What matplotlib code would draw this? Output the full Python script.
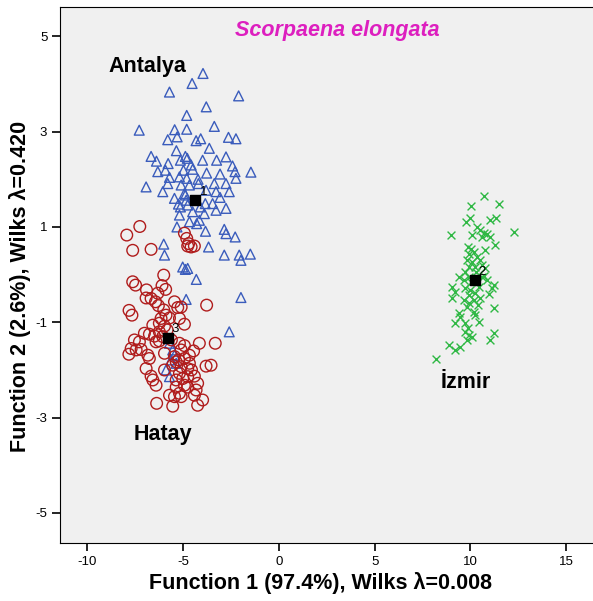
import numpy as np
import matplotlib
matplotlib.use("Agg")
import matplotlib.pyplot as plt

plt.rcParams['font.family'] = ['Liberation Sans', 'DejaVu Sans']
plt.rcParams['axes.unicode_minus'] = False

# discriminant scores
antalya_x = [-3.96, -4.53, -5.71, -2.10, -3.79, -4.81, -7.29, -5.44, -4.81, -3.37,
             -5.80, -5.31, -4.32, -4.08, -2.63, -2.24, -3.63, -6.67, -6.39, -5.35,
             -4.88, -4.78, -5.14, -3.98, -3.25, -2.76, -5.78, -4.58, -2.42, -1.46,
             -6.32, -5.92, -4.98, -4.50, -3.77, -3.07, -2.29, -5.71, -5.19, -4.81,
             -4.22, -2.24, -6.93, -6.06, -5.80, -5.10, -4.67, -4.20, -3.37, -2.76,
             -3.80, -3.28, -2.59, -4.88, -3.07, -5.24, -3.84, -4.76, -4.93, -5.45,
             -4.10, -3.46, -3.28, -5.19, -4.50, -3.89, -2.76, -4.67, -4.15, -5.32,
             -2.85, -3.83, -2.76, -2.28, -4.29, -6.01, -5.97, -3.67, -2.85, -2.07,
             -1.98, -1.49, -5.02, -4.88, -4.76, -4.31, -4.84, -1.98, -2.59, -5.71,
             -5.54, -5.45, -5.63, -5.36, -5.89, -5.71, -4.84, -5.14]
antalya_y = [4.22, 4.01, 3.83, 3.75, 3.52, 3.34, 3.03, 3.04, 3.05, 3.11,
             2.83, 2.89, 2.81, 2.85, 2.88, 2.85, 2.65, 2.48, 2.38, 2.60,
             2.48, 2.44, 2.40, 2.40, 2.40, 2.47, 2.33, 2.30, 2.28, 2.15,
             2.16, 2.19, 2.19, 2.21, 2.13, 2.11, 2.16, 2.04, 2.05, 2.02,
             2.00, 2.02, 1.84, 1.74, 1.91, 1.88, 1.88, 1.91, 1.91, 1.91,
             1.77, 1.74, 1.74, 1.67, 1.62, 1.48, 1.49, 1.46, 1.70, 1.60,
             1.42, 1.49, 1.35, 1.25, 1.32, 1.28, 1.39, 1.11, 1.14, 1.00,
             0.95, 0.91, 0.86, 0.79, 1.07, 0.64, 0.41, 0.58, 0.41, 0.41,
             0.30, 0.43, 0.16, 0.11, 0.13, -0.10, -0.52, -0.48, -1.20, -1.44,
             -1.58, -1.69, -1.79, -1.86, -2.00, -2.14, 1.56, 1.42]

hatay_x = [-7.26, -7.94, -7.63, -6.67, -4.93, -4.81, -4.71, -4.58, -4.41, -4.76,
           -6.01, -7.63, -7.48, -6.91, -6.32, -6.10, -5.91, -6.93, -6.67, -6.44,
           -6.29, -5.45, -5.28, -5.10, -3.77, -7.82, -7.67, -6.01, -6.15, -5.89,
           -5.71, -5.19, -6.58, -6.24, -5.97, -4.93, -7.02, -6.76, -6.49, -6.24,
           -6.06, -7.54, -7.28, -6.41, -6.24, -5.19, -4.15, -3.32, -7.71, -7.45,
           -7.83, -7.19, -6.84, -6.76, -5.97, -5.10, -4.93, -5.23, -4.45, -4.67,
           -4.76, -5.10, -5.45, -5.36, -5.54, -3.80, -3.54, -6.93, -6.67, -6.58,
           -5.97, -5.19, -5.02, -5.36, -4.76, -4.41, -4.24, -6.41, -5.36, -5.19,
           -5.45, -5.10, -4.76, -4.32, -3.98, -4.24, -6.38, -5.54, -5.83, -5.61,
           -4.93, -4.67, -4.56, -4.93, -5.71, -4.41]
hatay_y = [1.01, 0.83, 0.51, 0.53, 0.87, 0.76, 0.65, 0.58, 0.60, 0.60,
           -0.01, -0.15, -0.22, -0.32, -0.39, -0.23, -0.31, -0.49, -0.50, -0.57,
           -0.65, -0.57, -0.69, -0.68, -0.64, -0.75, -0.85, -0.74, -0.92, -0.85,
           -0.91, -0.92, -1.06, -1.02, -1.08, -1.04, -1.23, -1.25, -1.29, -1.20,
           -1.30, -1.37, -1.41, -1.41, -1.39, -1.44, -1.44, -1.44, -1.55, -1.58,
           -1.67, -1.57, -1.69, -1.76, -1.65, -1.58, -1.76, -1.79, -1.60, -1.86,
           -1.97, -1.93, -1.72, -1.83, -1.90, -1.92, -1.90, -1.97, -2.13, -2.21,
           -2.00, -2.07, -2.18, -2.21, -2.14, -2.13, -2.28, -2.32, -2.36, -2.49,
           -2.56, -2.56, -2.36, -2.42, -2.63, -2.74, -2.70, -2.76, -1.16, -1.37,
           -1.49, -1.69, -2.00, -2.32, -2.53, -2.53]

izmir_x = [10.73, 11.51, 10.05, 9.77, 10.00, 11.04, 11.33, 12.26, 8.99, 10.34,
           10.52, 10.69, 10.86, 11.04, 10.60, 10.08, 11.30, 9.88, 10.05, 10.17,
           9.91, 10.34, 10.78, 9.82, 10.08, 10.52, 9.91, 10.26, 10.60, 10.78,
           9.74, 9.39, 9.65, 9.91, 10.60, 10.86, 10.43, 9.04, 9.22, 11.21,
           11.13, 9.74, 10.00, 10.26, 9.91, 9.04, 9.65, 9.91, 10.17, 10.52,
           11.21, 9.39, 9.48, 10.17, 10.26, 9.22, 9.74, 9.88, 10.43, 9.74,
           9.91, 10.08, 9.82, 11.21, 11.04, 8.87, 9.22, 9.48, 8.18, 10.30,
           10.69, 10.05, 10.96, 10.39, 9.80]
izmir_y = [1.65, 1.48, 1.44, 1.11, 1.18, 1.14, 1.18, 0.90, 0.84, 1.00,
           0.93, 0.88, 0.86, 0.79, 0.79, 0.83, 0.62, 0.58, 0.53, 0.48,
           0.43, 0.37, 0.51, 0.30, 0.27, 0.30, 0.16, 0.15, 0.20, 0.13,
           0.06, -0.05, -0.12, -0.05, -0.05, -0.12, -0.26, -0.26, -0.36, -0.22,
           -0.29, -0.29, -0.32, -0.39, -0.43, -0.48, -0.53, -0.59, -0.53, -0.50,
           -0.71, -0.81, -0.88, -0.78, -0.85, -1.02, -1.02, -1.13, -0.99, -1.20,
           -1.27, -1.30, -1.37, -1.23, -1.37, -1.48, -1.58, -1.51, -1.76, 0.05,
           -0.03, -0.16, -0.41, -0.64, -0.68]

centroid_x = [-4.36, 10.22, -5.80]
centroid_y = [1.56, -0.12, -1.32]
centroid_lab = ['1', '2', '3']

fig = plt.figure(figsize=(5.93, 6.01), dpi=100)
ax = fig.add_axes([0.102, 0.0965, 0.898, 0.8915])
ax.set_facecolor('#f0f0f0')

ax.scatter(antalya_x, antalya_y, marker='^', s=50, facecolors='none',
           edgecolors='#3a5cbc', linewidths=1.0, zorder=3)
ax.scatter(hatay_x, hatay_y, marker='o', s=70, facecolors='none',
           edgecolors='#b01c1c', linewidths=1.0, zorder=3)
ax.scatter(izmir_x, izmir_y, marker='x', s=32, color='#2fb844',
           linewidths=1.0, zorder=3)
ax.scatter(centroid_x, centroid_y, marker='s', s=45, color='black', zorder=5)
for cx, cy, t in zip(centroid_x, centroid_y, centroid_lab):
    ax.annotate(t, (cx, cy), xytext=(3, 4), textcoords='offset points',
                fontsize=9.5, zorder=6)

ax.text(-6.86, 4.37, 'Antalya', fontsize=15.5, fontweight='bold', ha='center', va='center')
ax.text(-6.03, -3.36, 'Hatay', fontsize=15.5, fontweight='bold', ha='center', va='center')
ax.text(9.76, -2.27, 'İzmir', fontsize=15.5, fontweight='bold', ha='center', va='center')
ax.text(3.05, 5.12, 'Scorpaena elongata', fontsize=15.5, fontweight='bold',
        fontstyle='italic', color='#dd1fbf', ha='center', va='center')

ax.set_xlim(-11.4, 16.4)
ax.set_ylim(-5.63, 5.61)
ax.set_xticks([-10, -5, 0, 5, 10, 15])
ax.set_yticks([5, 3, 1, -1, -3, -5])
ax.tick_params(labelsize=9.5, length=6, width=1.2)
ax.spines['right'].set_visible(False)

# axis titles placed as in the original
fig.text(0.541, 0.030, 'Function 1 (97.4%), Wilks λ=0.008', fontsize=15.5,
         fontweight='bold', ha='center', va='center')
fig.text(0.033, 0.523, 'Function 2 (2.6%), Wilks λ=0.420', fontsize=15.5,
         fontweight='bold', ha='center', va='center', rotation=90)

fig.savefig('out.png', dpi=100)
